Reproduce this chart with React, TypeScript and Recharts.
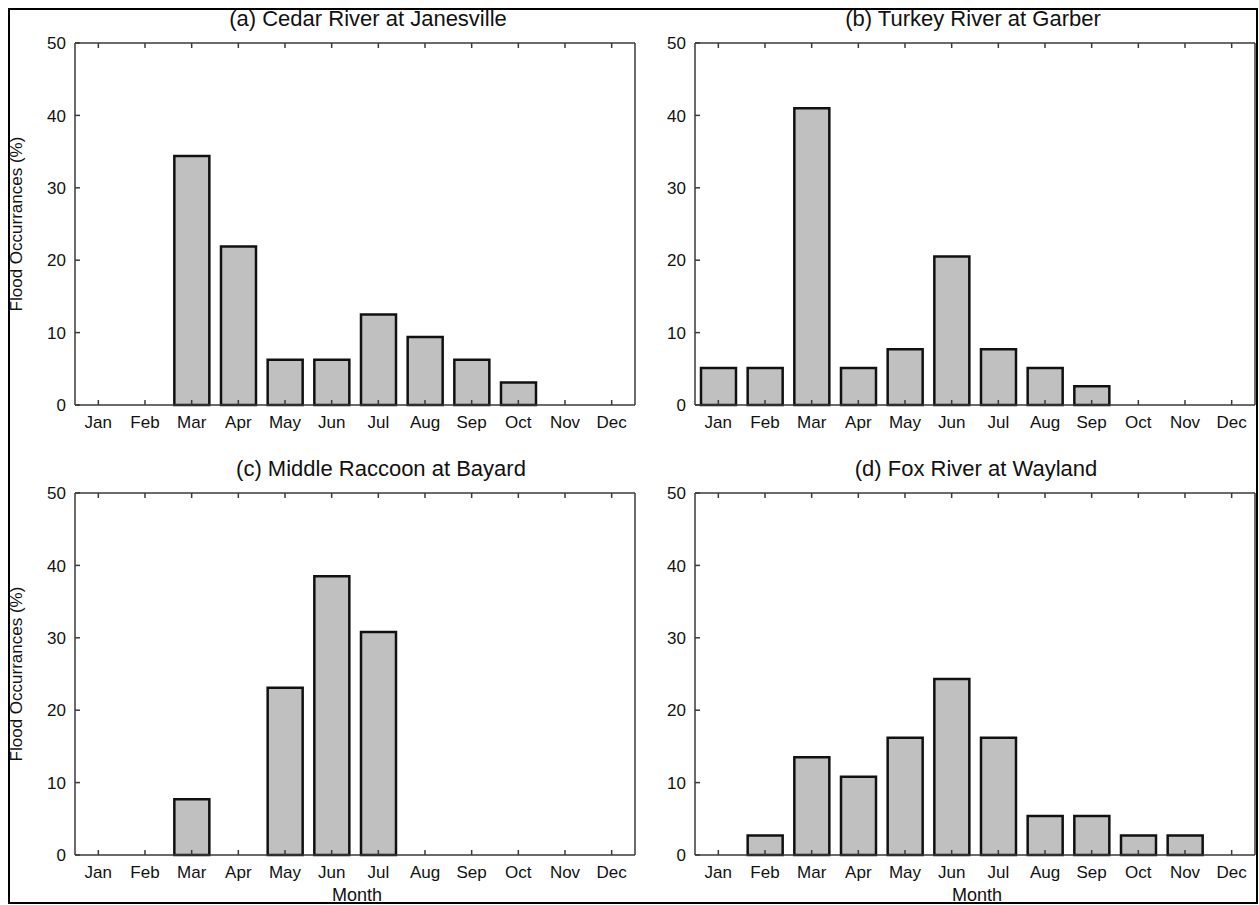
import React from 'react';
import { BarChart, Bar, XAxis, YAxis } from 'recharts';

const months = ['Jan', 'Feb', 'Mar', 'Apr', 'May', 'Jun', 'Jul', 'Aug', 'Sep', 'Oct', 'Nov', 'Dec'];

// flood occurrence share per month (%)
const cedarValues = [0, 0, 34.4, 21.9, 6.25, 6.25, 12.5, 9.4, 6.25, 3.1, 0, 0];
const turkeyValues = [5.1, 5.1, 41.0, 5.1, 7.7, 20.5, 7.7, 5.1, 2.6, 0, 0, 0];
const raccoonValues = [0, 0, 7.7, 0, 23.1, 38.5, 30.8, 0, 0, 0, 0, 0];
const foxValues = [0, 2.7, 13.5, 10.8, 16.2, 24.3, 16.2, 5.4, 5.4, 2.7, 2.7, 0];

const yTicks = [0, 10, 20, 30, 40, 50];

const FONT = '"Liberation Sans", Arial, Helvetica, sans-serif';
const AXIS = '#3a3a3a';
const axisStyle = { stroke: AXIS, strokeWidth: 1.5 };
const TICK_LEN = 5;
const X_GAP = 23;
const Y_GAP = 9;

// ticks point inward, so the tick line and label are drawn by hand
const BottomTick = (props: any) => {
  const { x, y, payload } = props;
  const axisY = y - X_GAP;
  return (
    <g>
      <line x1={x} x2={x} y1={axisY} y2={axisY - TICK_LEN} stroke={AXIS} strokeWidth={1.5} />
      <text x={x} y={y} textAnchor="middle" fontSize={17} fontFamily={FONT} fill="#111">
        {payload.value}
      </text>
    </g>
  );
};

const TopTick = (props: any) => {
  const { x, y } = props;
  return <line x1={x} x2={x} y1={y} y2={y + TICK_LEN} stroke={AXIS} strokeWidth={1.5} />;
};

const LeftTick = (props: any) => {
  const { x, y, payload } = props;
  const axisX = x + Y_GAP;
  return (
    <g>
      <line x1={axisX} x2={axisX + TICK_LEN} y1={y} y2={y} stroke={AXIS} strokeWidth={1.5} />
      <text x={x} y={y} dy="0.36em" textAnchor="end" fontSize={17} fontFamily={FONT} fill="#111">
        {payload.value}
      </text>
    </g>
  );
};

const RightTick = (props: any) => {
  const { x, y } = props;
  return <line x1={x} x2={x - TICK_LEN} y1={y} y2={y} stroke={AXIS} strokeWidth={1.5} />;
};

type PanelProps = {
  title: string;
  titleX: number;
  values: number[];
  left: number;
  top: number;
  yLabel?: boolean;
  xLabel?: boolean;
};

function Panel({ title, titleX, values, left, top, yLabel, xLabel }: PanelProps) {
  const data = months.map((m, i) => ({ month: m, value: values[i] }));
  return (
    <div style={{ position: 'absolute', left, top, width: 640, height: 440 }}>
      <BarChart
        width={640}
        height={440}
        data={data}
        margin={{ top: 42, right: 4, bottom: 5, left: 0 }}
        barSize={35}
      >
        <XAxis
          dataKey="month"
          xAxisId="bottom"
          height={30}
          interval={0}
          tickSize={0}
          tickMargin={X_GAP}
          axisLine={axisStyle}
          tickLine={false}
          tick={<BottomTick />}
        />
        <XAxis
          dataKey="month"
          xAxisId="top"
          orientation="top"
          height={1}
          interval={0}
          tickSize={0}
          tickMargin={0}
          axisLine={axisStyle}
          tickLine={false}
          tick={<TopTick />}
        />
        <YAxis
          yAxisId="left"
          domain={[0, 50]}
          ticks={yTicks}
          width={75}
          tickSize={0}
          tickMargin={Y_GAP}
          axisLine={axisStyle}
          tickLine={false}
          tick={<LeftTick />}
        />
        <YAxis
          yAxisId="right"
          orientation="right"
          domain={[0, 50]}
          ticks={yTicks}
          width={1}
          tickSize={0}
          tickMargin={0}
          axisLine={axisStyle}
          tickLine={false}
          tick={<RightTick />}
        />
        <Bar
          dataKey="value"
          xAxisId="bottom"
          yAxisId="left"
          fill="#c0c0c0"
          stroke="#111"
          strokeWidth={2.5}
          isAnimationActive={false}
        />
      </BarChart>
      <div
        style={{
          position: 'absolute',
          left: titleX - 250,
          top: 6,
          width: 500,
          textAlign: 'center',
          fontSize: 22,
          lineHeight: '26px',
          color: '#111',
          whiteSpace: 'nowrap',
        }}
      >
        {title}
      </div>
      {yLabel && (
        <div
          style={{
            position: 'absolute',
            left: 17 - 150,
            top: 224 - 10,
            width: 300,
            height: 20,
            lineHeight: '20px',
            textAlign: 'center',
            fontSize: 17,
            color: '#111',
            transform: 'rotate(-90deg)',
          }}
        >
          Flood Occurrances (%)
        </div>
      )}
      {xLabel && (
        <div
          style={{
            position: 'absolute',
            left: 357 - 100,
            top: 435,
            width: 200,
            textAlign: 'center',
            fontSize: 18,
            lineHeight: '20px',
            color: '#111',
          }}
        >
          Month
        </div>
      )}
    </div>
  );
}

export default function App() {
  return (
    <div
      style={{
        position: 'absolute',
        left: 0,
        top: 0,
        width: 1259,
        height: 905,
        background: '#fff',
        fontFamily: FONT,
        overflow: 'hidden',
      }}
    >
      <div
        style={{
          position: 'absolute',
          left: 8,
          top: 8,
          width: 1250,
          height: 896,
          border: '2px solid #000',
          boxSizing: 'border-box',
        }}
      />
      <Panel title="(a) Cedar River at Janesville" titleX={368} values={cedarValues} left={0} top={0} yLabel />
      <Panel title="(b) Turkey River at Garber" titleX={353} values={turkeyValues} left={620} top={0} />
      <Panel title="(c) Middle Raccoon at Bayard" titleX={381} values={raccoonValues} left={0} top={450} yLabel xLabel />
      <Panel title="(d) Fox River at Wayland" titleX={356} values={foxValues} left={620} top={450} xLabel />
    </div>
  );
}
